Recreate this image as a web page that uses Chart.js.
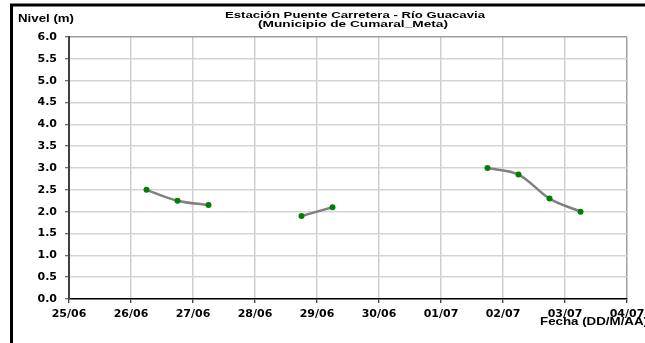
<!DOCTYPE html>
<html>
<head>
<meta charset="utf-8">
<script src="https://cdn.jsdelivr.net/npm/chart.js@4.4.1/dist/chart.umd.min.js"></script>
<style>
html,body{margin:0;padding:0;background:#fff;}
#wrap{position:relative;width:645px;height:343px;}
</style>
</head>
<body>
<div id="wrap"><canvas id="c" width="645" height="343"></canvas></div>
<script>
// ---- data ----
const titleLines = ['Estación Puente Carretera - Río Guacavia', '(Municipio de Cumaral_Meta)'];
const yAxisTitle = 'Nivel (m)';
const xAxisTitle = 'Fecha (DD/M/AA)';
const dayLabels = ['25/06','26/06','27/06','28/06','29/06','30/06','01/07','02/07','03/07','04/07'];
const sampleDates = ['26/06','26/06','27/06','27/06','28/06','28/06','29/06','29/06','30/06','30/06','01/07','01/07','02/07','02/07','03/07'];
const sampleHours = [6,18,6,18,6,18,6,18,6,18,6,18,6,18,6];
const levels = [2.5,2.25,2.15,null,null,1.9,2.1,null,null,null,null,3.0,2.85,2.3,2.0];
const yTicks = [0,0.5,1,1.5,2,2.5,3,3.5,4,4.5,5,5.5,6];

const points = sampleDates.map((d,i)=>({x: dayLabels.indexOf(d) + sampleHours[i]/24, y: levels[i]}));

const FONT = '"DejaVu Sans", sans-serif';
const TFONT = '"Liberation Sans", Arial, sans-serif';

function fitText(ctx, text, x, y, width, align){
  const w = ctx.measureText(text).width;
  const sx = width / w;
  ctx.save();
  let left = align === 'center' ? x - width/2 : x;
  ctx.translate(left, y);
  ctx.scale(sx, 1);
  ctx.textAlign = 'left';
  ctx.fillText(text, 0, 0);
  ctx.restore();
}

const decor = {
  id:'decor',
  afterDraw(chart){
    const ctx = chart.ctx;
    ctx.save();
    // outer frame (left & top)
    ctx.strokeStyle = '#000';
    ctx.lineWidth = 3;
    ctx.beginPath();
    ctx.moveTo(11.5, 343);
    ctx.lineTo(11.5, 5);
    ctx.lineTo(645, 5);
    ctx.stroke();
    ctx.fillStyle = '#000';
    ctx.textBaseline = 'middle';
    // title
    ctx.font = 'bold 9.5px ' + TFONT;
    fitText(ctx, titleLines[0], 355, 15.8, 260, 'center');
    fitText(ctx, titleLines[1], 353, 24.5, 190, 'center');
    // axis titles
    ctx.font = 'bold 10.5px ' + TFONT;
    fitText(ctx, yAxisTitle, 18, 19, 56, 'left');
    fitText(ctx, xAxisTitle, 540, 322, 108, 'left');
    ctx.restore();
  }
};

new Chart(document.getElementById('c'), {
  type:'line',
  data:{
    datasets:[{
      data: points,
      borderColor:'#808080',
      borderWidth:2.5,
      pointBackgroundColor:'#008000',
      pointBorderColor:'#008000',
      pointBorderWidth:0,
      pointRadius:3,
      tension:0.35,
      spanGaps:false,
      fill:false
    }]
  },
  options:{
    responsive:false,
    animation:false,
    events:[],
    layout:{padding:{left:0, top:37, right:18, bottom:0}},
    plugins:{legend:{display:false}, title:{display:false}, tooltip:{enabled:false}},
    scales:{
      x:{
        type:'linear', min:0, max:dayLabels.length-1,
        afterBuildTicks(s){ s.ticks = dayLabels.map((_,i)=>({value:i})); },
        afterFit(s){ s.height = 44; s.paddingLeft = 0; s.paddingRight = 0; },
        ticks:{
          callback:(v)=>dayLabels[v] ?? '',
          font:{family:FONT, size:11, weight:'bold'}, color:'#000',
          padding:5, maxRotation:0, autoSkip:false
        },
        grid:{color:(c)=> c.index === dayLabels.length-1 ? '#a0a0a0' : '#cfcfcf', lineWidth:1.5, tickLength:4, tickColor:'#000', tickWidth:1},
        border:{color:'#000', width:1.5}
      },
      y:{
        min:0, max:6,
        afterBuildTicks(s){ s.ticks = yTicks.map(v=>({value:v})); },
        afterFit(s){ s.width = 69; s.paddingTop = 0; s.paddingBottom = 0; },
        ticks:{
          callback:(v)=>v.toFixed(1),
          font:{family:FONT, size:11, weight:'bold'}, color:'#000',
          padding:8
        },
        grid:{color:(c)=> c.index === yTicks.length-1 ? '#a0a0a0' : '#d4d4d4', lineWidth:1.5, tickLength:4, tickColor:'#404040', tickWidth:1},
        border:{color:'#404040', width:2}
      }
    }
  },
  plugins:[decor]
});
</script>
</body>
</html>
